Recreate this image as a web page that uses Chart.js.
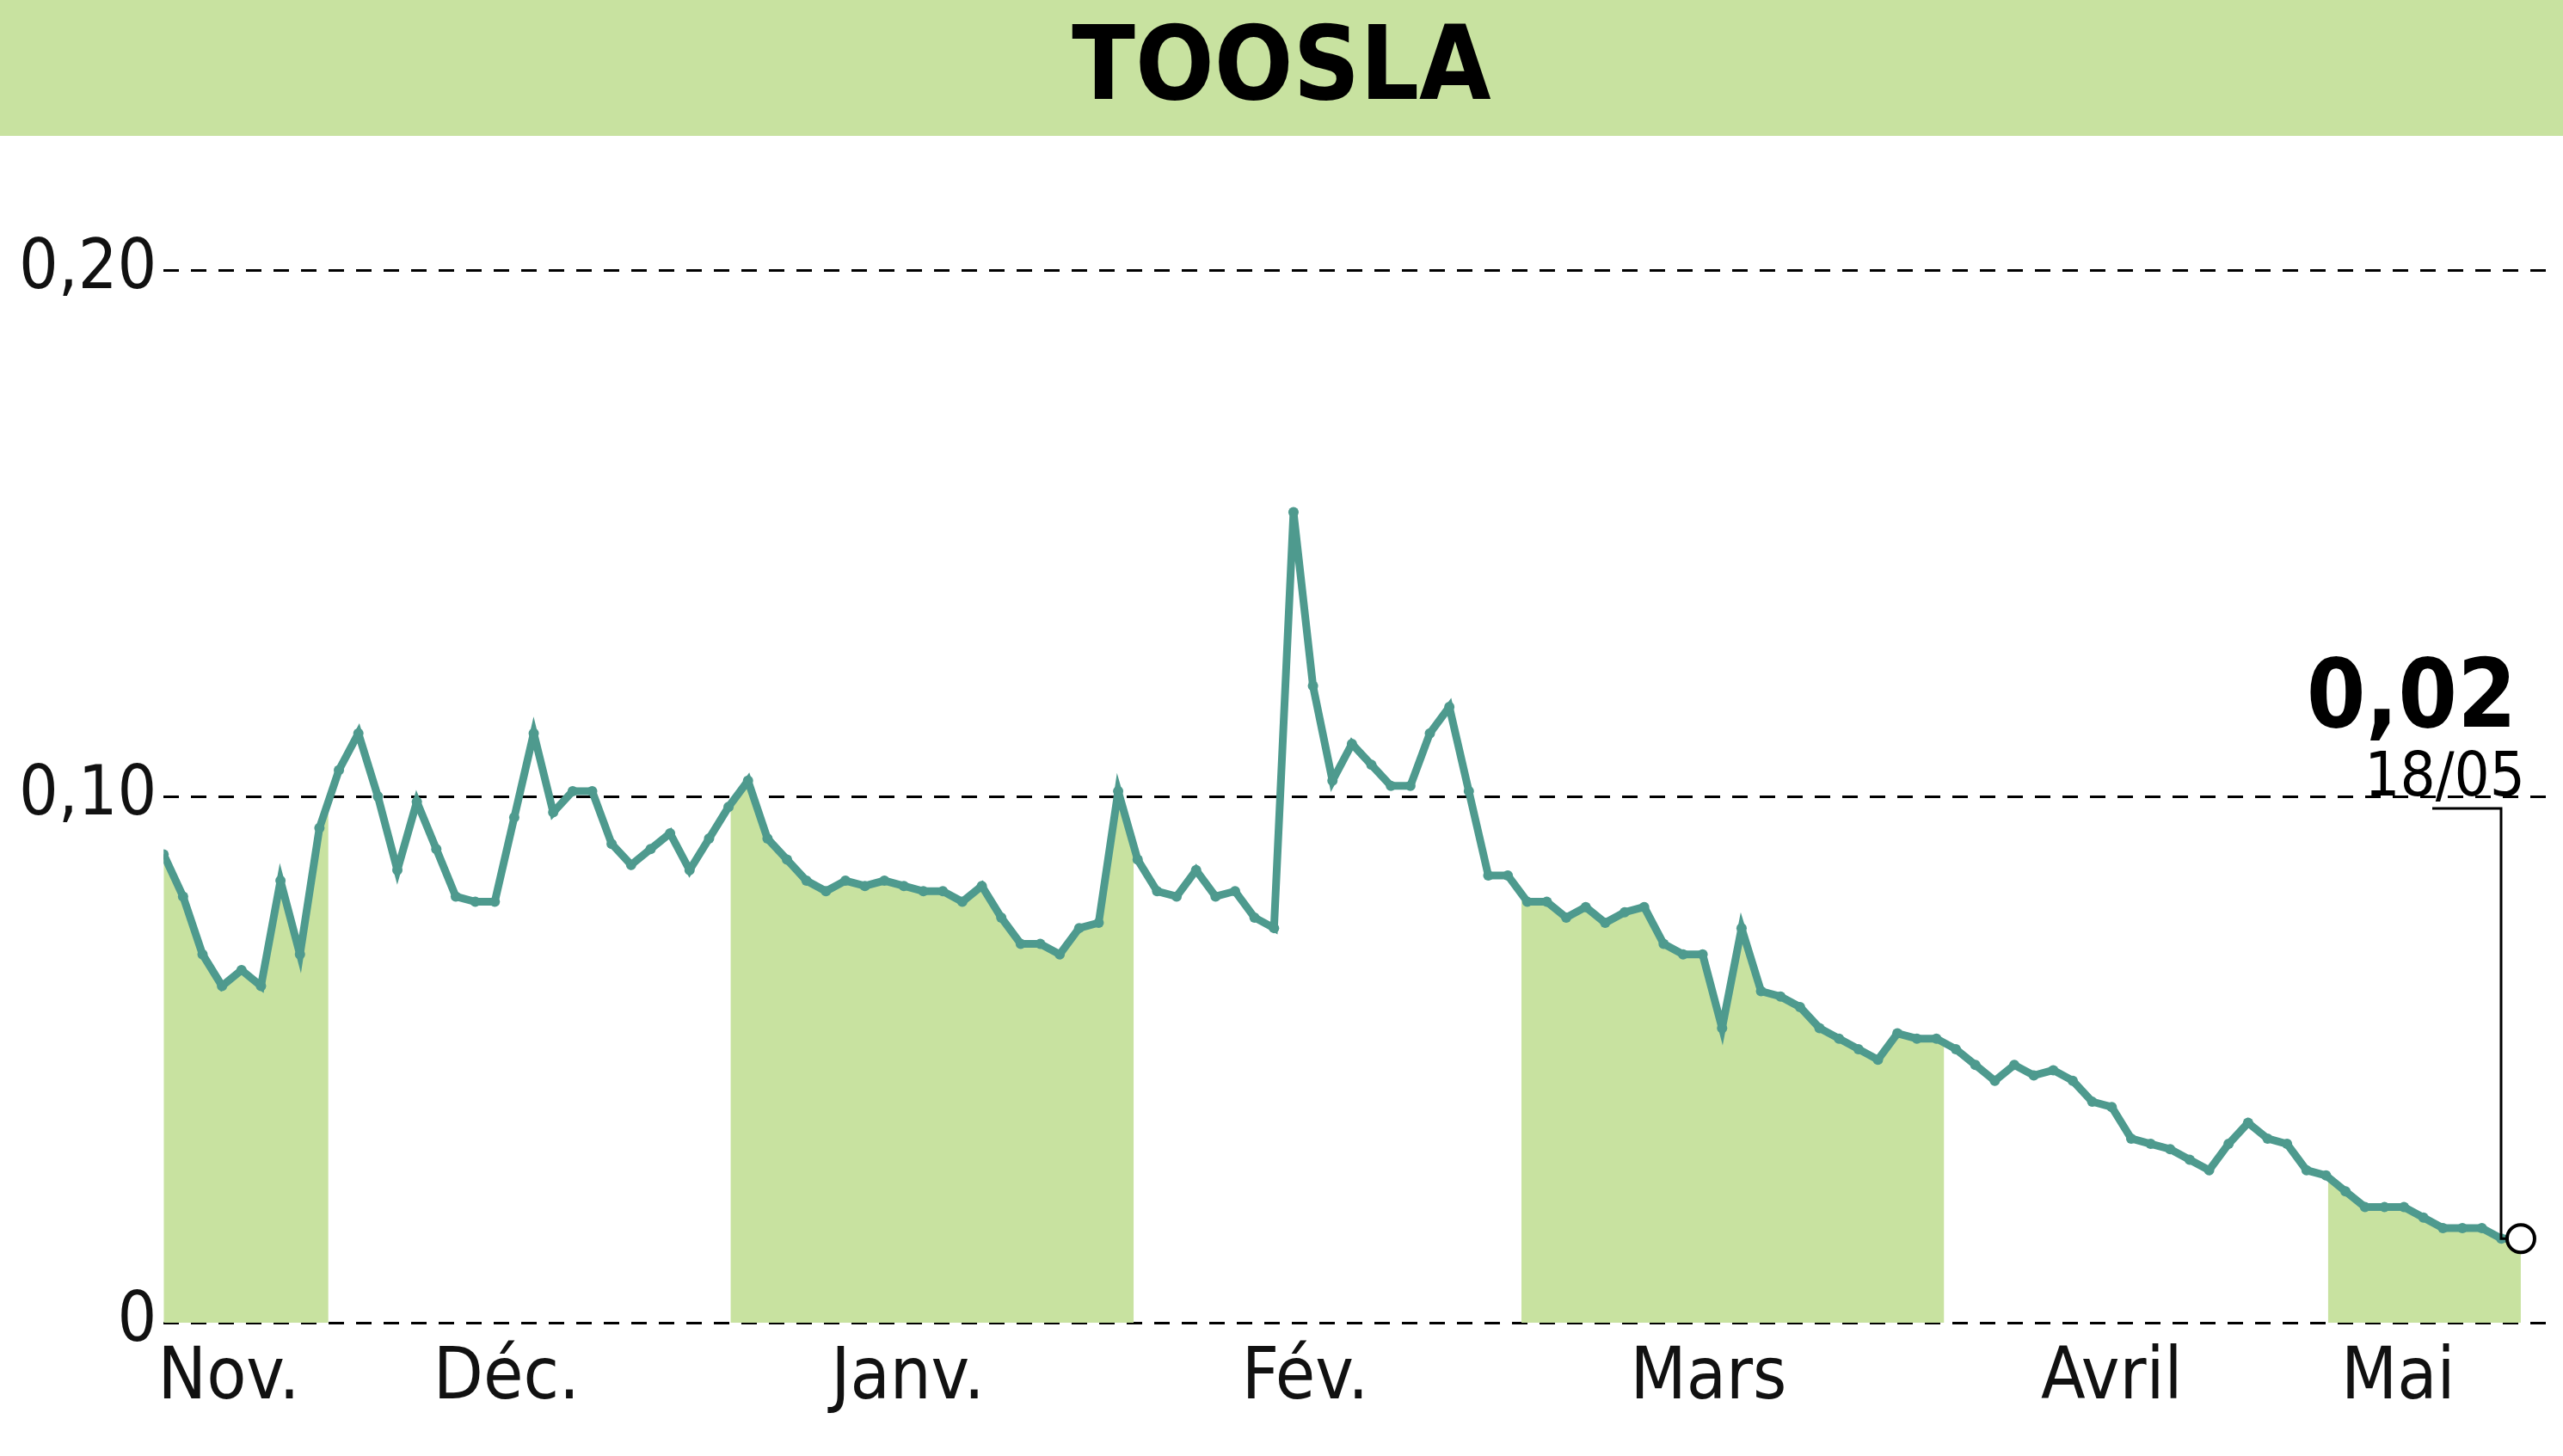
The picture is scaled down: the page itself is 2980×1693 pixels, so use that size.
<!DOCTYPE html>
<html><head><meta charset="utf-8">
<script src="https://cdn.jsdelivr.net/npm/chart.js@4"></script>
<style>html,body{margin:0;padding:0;background:#fff}#w{width:2980px;height:1693px}</style>
</head><body><div id="w"><canvas id="c"></canvas></div>
<script>
const title = "TOOSLA";
const prices = [0.089,0.081,0.070,0.064,0.067,0.064,0.084,0.070,0.094,0.105,0.112,0.100,0.086,0.099,0.090,0.081,0.080,0.080,0.096,0.112,0.097,0.101,0.101,0.091,0.087,0.090,0.093,0.086,0.092,0.098,0.103,0.092,0.088,0.084,0.082,0.084,0.083,0.084,0.083,0.082,0.082,0.080,0.083,0.077,0.072,0.072,0.070,0.075,0.076,0.101,0.088,0.082,0.081,0.086,0.081,0.082,0.077,0.075,0.154,0.121,0.103,0.110,0.106,0.102,0.102,0.112,0.117,0.101,0.085,0.085,0.080,0.080,0.077,0.079,0.076,0.078,0.079,0.072,0.070,0.070,0.056,0.075,0.063,0.062,0.060,0.056,0.054,0.052,0.050,0.055,0.054,0.054,0.052,0.049,0.046,0.049,0.047,0.048,0.046,0.042,0.041,0.035,0.034,0.033,0.031,0.029,0.034,0.038,0.035,0.034,0.029,0.028,0.025,0.022,0.022,0.022,0.020,0.018,0.018,0.018,0.016,0.016];
const monthLabels = ["Nov.","Déc.","Janv.","Fév.","Mars","Avril","Mai"];
const monthPos = [3.35,17.6,38.2,58.6,79.3,100,114.7];
const bands = [[0,8.46],[29.1,49.8],[69.7,91.4],[111.1,121]];
const yTicks = [0,0.1,0.2];
const lastLabel = "0,02", lastDate = "18/05";

const N = prices.length;
const pts = prices.map((v,i)=>({x:i,y:v}));
function at(x){const i=Math.floor(x),f=x-i;if(i>=N-1)return prices[N-1];return prices[i]+(prices[i+1]-prices[i])*f;}
const bandSets = bands.map(([a,b])=>{const d=[{x:a,y:at(a)}];for(let i=Math.ceil(a);i<=Math.floor(b);i++)d.push({x:i,y:prices[i]});d.push({x:b,y:at(b)});
 return {data:d,borderWidth:0,pointRadius:0,fill:'origin',backgroundColor:'#c8e2a0',tension:0,order:2};});
const font = "'DejaVu Sans Condensed','DejaVu Sans',sans-serif";
const deco = {id:'deco',
 beforeDraw(ch){const c=ch.ctx;c.save();c.fillStyle='#c8e2a0';c.fillRect(0,0,2980,158);
  c.fillStyle='#000';c.font="bold 120px "+font;try{c.fontStretch='condensed';}catch(e){}c.textAlign='center';c.textBaseline='middle';c.fillText(title,1490,84);c.restore();},
 afterDraw(ch){const c=ch.ctx,xs=ch.scales.x,ys=ch.scales.y;const px=xs.getPixelForValue(N-1),py=ys.getPixelForValue(prices[N-1]);
  c.save();c.strokeStyle='#000';c.lineWidth=3;c.beginPath();c.moveTo(2828,940);c.lineTo(2908,940);c.lineTo(2908,py);c.lineTo(px,py);c.stroke();
  c.beginPath();c.arc(px,py,16,0,Math.PI*2);c.fillStyle='#fff';c.fill();c.lineWidth=4;c.stroke();
  c.fillStyle='#000';c.textAlign='right';c.font="bold 110px "+font;try{c.fontStretch='condensed';}catch(e){}c.textBaseline='alphabetic';c.fillText(lastLabel,2926,845);
  c.font="72px "+font;c.fillText(lastDate,2936,925);c.restore();}};
new Chart(document.getElementById('c'),{type:'line',
 data:{datasets:[{data:pts,borderColor:'#4e9a8e',borderWidth:9,pointRadius:6,pointBackgroundColor:'#4e9a8e',pointBorderWidth:0,tension:0,fill:false,order:1},...bandSets]},
 options:{responsive:true,maintainAspectRatio:false,animation:false,
  layout:{padding:{top:314,left:14,right:0,bottom:30}},
  plugins:{legend:{display:false},tooltip:{enabled:false}},
  scales:{
   x:{type:'linear',min:0,max:N+0.9,grid:{display:false},border:{display:false},
      afterBuildTicks(s){s.ticks=monthPos.map(v=>({value:v}));},
      ticks:{autoSkip:false,maxRotation:0,color:'#111',font:{family:font,size:84},padding:8,callback:(v)=>monthLabels[monthPos.indexOf(v)]}},
   y:{min:0,max:0.2,
      afterBuildTicks(s){s.ticks=yTicks.map(v=>({value:v}));},
      grid:{color:'#000',lineWidth:3,drawTicks:false,tickLength:0},
      border:{display:false,dash:[18,14]},
      ticks:{color:'#111',font:{family:font,size:80},padding:8,callback:v=>v===0?'0':v.toFixed(2).replace('.',',')}}}},
 plugins:[deco]});
</script></body></html>
